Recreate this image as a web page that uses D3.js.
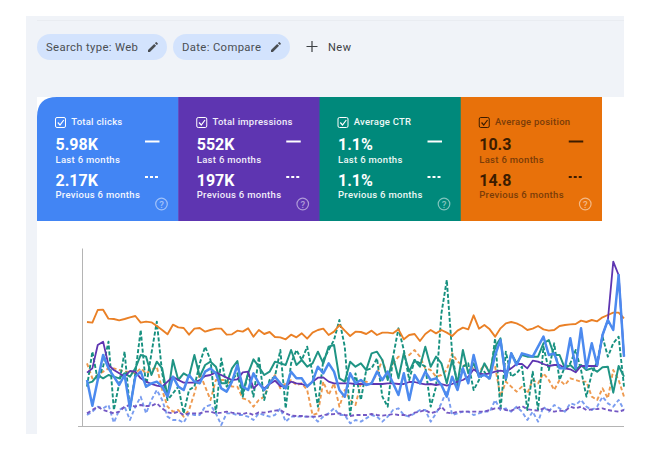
<!DOCTYPE html>
<html>
<head>
<meta charset="utf-8">
<script src="https://cdn.jsdelivr.net/npm/d3@7"></script>
<style>
  html, body { margin: 0; padding: 0; background: #fff; }
  svg { display: block; font-family: Roboto, sans-serif; }
</style>
</head>
<body>
<svg id="chart" width="650" height="450"></svg>
<script>
// Filter chips
const chipLabels = ['Search type: Web', 'Date: Compare']
const newLabel = 'New'

// Metric cards
const metricNames = ['Total clicks', 'Total impressions', 'Average CTR', 'Average position']
const lastValues = ['5.98K', '552K', '1.1%', '10.3']
const prevValues = ['2.17K', '197K', '1.1%', '14.8']
const lastLabel = 'Last 6 months'
const prevLabel = 'Previous 6 months'

// Lines, the chart has no value axis so the unit is relative
const clicksLast = [138,61,138,213,173,148,123,153,53,148,163,118,128,133,118,88,148,118,108,153,133,128,163,173,158,113,103,133,183,118,108,158,128,
  108,128,148,128,113,163,143,143,118,133,178,158,188,163,108,88,158,128,138,123,128,163,138,163,128,93,158,78,153,128,163,138,143,123,
  88,148,108,173,128,213,148,153,143,213,258,143,218,183,218,213,208,238,268,213,218,173,173,263,173,293,173,248,183,273,318,288,453,208]
const clicksPrev = [33,43,58,53,63,10,48,58,18,58,88,38,78,108,78,28,18,18,10,38,33,33,58,63,38,3,38,38,33,33,28,18,38,
  33,28,33,53,13,28,28,28,28,28,13,28,38,53,33,33,8,18,13,23,33,28,13,28,48,53,33,28,38,48,48,13,38,68,
  108,33,38,43,43,33,38,43,43,78,48,53,43,58,43,18,43,13,58,43,63,53,43,68,63,78,58,48,58,88,68,58,78,48]
const imprLast = [160,173,243,253,183,168,158,148,165,163,143,133,126,121,118,133,148,138,130,130,130,138,150,153,161,153,145,138,140,161,163,113,128,
  113,126,136,120,118,133,128,126,120,133,145,146,133,128,128,128,128,126,126,125,126,126,126,128,128,126,126,132,132,128,125,126,123,126,
  121,126,133,138,148,170,158,155,158,163,166,163,173,186,186,173,196,193,186,180,183,183,173,170,161,180,180,180,180,273,318,493,453,208]
const imprPrev = [38,48,58,48,43,38,43,58,63,58,63,60,60,68,53,41,38,43,33,38,38,38,43,43,38,40,43,40,38,36,40,33,41,
  40,43,46,48,38,31,30,30,28,28,28,33,35,36,38,33,30,33,33,33,36,33,31,33,36,33,33,31,40,43,48,38,43,58,
  40,38,43,43,43,43,43,43,48,53,53,48,46,53,60,50,48,46,53,48,43,46,45,58,53,58,48,50,51,53,48,45,43,48]
const ctrLast = [128,133,153,143,153,148,143,158,148,173,213,208,153,193,173,88,198,138,158,148,213,148,183,193,178,128,128,173,195,98,158,200,178,
  153,163,193,188,183,228,183,198,178,188,223,188,238,243,143,133,193,178,188,168,218,223,198,138,208,143,218,163,198,178,238,178,208,188,
  128,198,128,228,158,188,148,188,158,238,263,138,218,188,213,208,208,208,248,258,213,213,173,183,168,183,168,173,163,176,178,100,180,148]
const ctrPrev = [118,223,138,178,253,48,128,223,48,158,288,118,218,313,158,78,98,118,38,108,118,188,238,198,38,203,118,138,158,88,158,88,208,
  78,138,148,228,53,188,228,198,238,158,58,198,228,258,318,238,33,158,78,168,173,203,88,58,208,293,228,138,198,188,178,58,118,338,
  438,218,118,178,188,108,138,163,138,263,48,223,148,158,178,48,163,48,238,168,248,138,178,188,228,168,88,158,193,268,208,248,268,118]
const posLast = [312,310,348,349,322,321,317,321,326,330,310,313,311,300,288,275,304,296,294,274,292,294,283,288,292,292,274,275,286,283,293,268,288,
  276,282,267,266,260,274,266,278,262,280,288,292,273,283,303,286,270,283,282,276,286,273,280,280,278,290,260,273,276,255,276,288,278,288,
  280,270,286,295,290,332,292,303,290,268,293,308,312,308,300,288,292,300,290,286,288,300,303,305,306,316,312,318,314,326,333,340,340,323]
const posPrev = [188,143,153,163,173,173,168,163,163,158,173,158,168,178,108,58,43,48,28,48,98,158,118,78,138,138,138,118,118,83,78,58,78,
  88,128,153,113,128,138,123,128,108,33,38,133,93,128,58,108,78,63,128,133,128,158,198,148,188,208,208,213,228,208,173,168,148,153,
  168,218,193,183,178,173,163,183,168,178,88,133,118,103,118,98,138,128,158,138,108,138,123,143,138,133,133,88,78,113,83,168,138,88]

const days = d3.range(clicksLast.length)

const colors = ['#4285f4', '#5e35b1', '#00897b', '#e8710a']
const textColors = ['#fff', '#fff', '#fff', '#3c1c00']
const labelColors = ['#f4f7ff', '#f1edfa', '#eef8f6', '#7a3c08']

const svg = d3.select('#chart')

// Page background bands
svg.append('rect').attr('x', 26).attr('y', 16).attr('width', 598).attr('height', 81).attr('fill', '#f0f3f8')
svg.append('rect').attr('x', 26).attr('y', 97).attr('width', 11).attr('height', 337).attr('fill', '#f0f3f8')
svg.append('line').attr('x1', 37).attr('x2', 624).attr('y1', 20.5).attr('y2', 20.5).attr('stroke', '#e9ecf1').attr('stroke-width', 1)

// Chips
const pencil = 'M0 8 L0 10 L2 10 L8.5 3.5 L6.5 1.5 Z M7.3 0.7 L9.3 2.7 L10.2 1.8 Q10.6 1.3 10.2 0.9 L9.1 -0.2 Q8.6 -0.6 8.2 -0.2 Z'
const chips = svg.append('g').selectAll('g')
  .data(chipLabels)
  .enter().append('g')
  .attr('transform', (d, i) => 'translate(' + [37, 173][i] + ',34)')
chips.append('rect')
  .attr('width', (d, i) => [130, 117][i])
  .attr('height', 26)
  .attr('rx', 13)
  .attr('fill', '#d3e3fd')
chips.append('text')
  .attr('x', 9)
  .attr('y', 17)
  .attr('font-size', 11.3)
  .attr('letter-spacing', 0.35)
  .attr('fill', '#4a4e52')
  .text(d => d)
chips.append('path')
  .attr('transform', (d, i) => 'translate(' + [111, 98][i] + ',8.5) scale(0.95)')
  .attr('d', pencil)
  .attr('fill', '#4a4e52')

// New filter
svg.append('path')
  .attr('d', 'M312 41 V52 M306.5 46.5 H317.5')
  .attr('stroke', '#3c4043')
  .attr('stroke-width', 1.2)
svg.append('text')
  .attr('x', 328)
  .attr('y', 51)
  .attr('font-size', 11)
  .attr('letter-spacing', 0.5)
  .attr('fill', '#3c4043')
  .text(newLabel)

// Cards
const cardX = d3.scaleBand().domain(d3.range(4)).range([37, 602])
const card = svg.append('g').selectAll('g')
  .data(metricNames)
  .enter().append('g')
  .attr('transform', (d, i) => 'translate(' + cardX(i) + ',97)')
card.append('path')
  .attr('d', (d, i) => {
    const w = cardX.bandwidth() + (i < 3 ? 0.5 : 0)
    return i === 0
      ? 'M0 124 V20 Q0 0 20 0 H' + w + ' V124 Z'
      : 'M0 0 H' + w + ' V124 H0 Z'
  })
  .attr('fill', (d, i) => colors[i])

// Checkbox
card.append('rect')
  .attr('x', 18.5).attr('y', 20.5).attr('width', 10).attr('height', 10).attr('rx', 1.5)
  .attr('fill', 'none')
  .attr('stroke', (d, i) => textColors[i])
  .attr('stroke-width', 1)
card.append('path')
  .attr('d', 'M20.8 25.5 L23 28 L26.8 23')
  .attr('fill', 'none')
  .attr('stroke', (d, i) => textColors[i])
  .attr('stroke-width', 1.2)
card.append('text')
  .attr('x', 34.3).attr('y', 27.7)
  .attr('font-size', 9.5)
  .attr('font-weight', 500)
  .attr('letter-spacing', 0.25)
  .attr('fill', (d, i) => labelColors[i])
  .text(d => d)

const addStat = (values, valueY, label, labelY, legendDash, legendY) => {
  card.append('text')
    .attr('x', 18.5).attr('y', valueY)
    .attr('font-size', 16)
    .attr('font-weight', 700)
    .attr('fill', (d, i) => textColors[i])
    .text((d, i) => values[i])
  card.append('text')
    .attr('x', 18.5).attr('y', labelY)
    .attr('font-size', 9.5)
    .attr('font-weight', 500)
    .attr('letter-spacing', 0.3)
    .attr('fill', (d, i) => labelColors[i])
    .text(label)
  card.append('line')
    .attr('x1', 108).attr('x2', 122.5)
    .attr('y1', legendY).attr('y2', legendY)
    .attr('stroke', (d, i) => i === 3 ? '#3c1c00' : '#fff')
    .attr('stroke-width', 2)
    .attr('stroke-dasharray', legendDash)
}
addStat(lastValues, 53, lastLabel, 65.5, null, 44.5)
addStat(prevValues, 88.5, prevLabel, 101, '3,2', 80)

// Help icon
const help = card.append('g')
  .attr('transform', 'translate(124.5,107)')
  .attr('opacity', 0.5)
help.append('circle')
  .attr('r', 5.8)
  .attr('fill', 'none')
  .attr('stroke', '#fff')
  .attr('stroke-width', 1.2)
help.append('text')
  .attr('text-anchor', 'middle')
  .attr('y', 3.5)
  .attr('font-size', 9.5)
  .attr('font-weight', 500)
  .attr('fill', '#fff')
  .text('?')

// Line chart
const x = d3.scaleLinear().domain([0, days.length - 1]).range([87, 624])
const y = d3.scaleLinear().domain([0, 534]).range([426, 248])

const g = svg.append('g')

g.append('g')
  .attr('transform', 'translate(0,426)')
  .call(d3.axisBottom(x).tickValues([]).tickSize(0).tickSizeOuter(0))
  .call(s => s.select('.domain').attr('d', 'M78,0.5H624').attr('stroke', '#b4b4b4').attr('stroke-width', 1))
g.append('g')
  .attr('transform', 'translate(82,0)')
  .call(d3.axisLeft(y).tickValues([]).tickSize(0).tickSizeOuter(0))
  .call(s => s.select('.domain').attr('stroke', '#b4b4b4').attr('stroke-width', 1))

const line = d3.line()
  .x((d, i) => x(i))
  .y(d => y(d))

// Order: later ones lie on top, as in the picture
const series = [
  { values: posPrev, color: '#ee9a50', dash: '4,2.5', width: 1.9 },
  { values: ctrPrev, color: '#16907f', dash: '4,2', width: 1.9 },
  { values: clicksPrev, color: '#7a9df0', dash: '4,2.5', width: 1.9 },
  { values: imprPrev, color: '#7458c4', dash: '4,2.5', width: 1.9 },
  { values: posLast, color: '#ea8026', dash: null, width: 1.9 },
  { values: ctrLast, color: '#1f9484', dash: null, width: 2 },
  { values: imprLast, color: colors[1], dash: null, width: 1.8 },
  { values: clicksLast, color: '#4c8aef', dash: null, width: 2.5 }
]

g.append('g').selectAll('path')
  .data(series)
  .enter().append('path')
  .attr('fill', 'none')
  .attr('stroke', d => d.color)
  .attr('stroke-width', d => d.width)
  .attr('stroke-dasharray', d => d.dash)
  .attr('stroke-linejoin', 'round')
  .attr('d', d => line(d.values))
</script>
</body>
</html>
